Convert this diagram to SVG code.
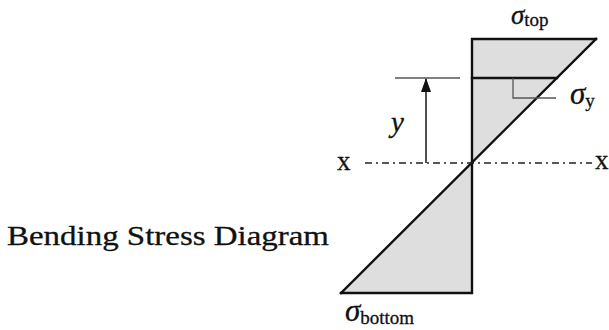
<svg xmlns="http://www.w3.org/2000/svg" width="609" height="330" viewBox="0 0 609 330">
<defs>
<style>
.area{fill:#dedede;stroke:none}
.thick{stroke:#111;stroke-width:2.4;fill:none;stroke-linecap:square}
.thin{stroke:#555;stroke-width:1.3;fill:none}
.axis{stroke:#222;stroke-width:1.6;stroke-dasharray:7 4 2 4;fill:none}
.t{fill:#111;stroke:#111;stroke-width:0.3}
.it{font-style:italic}
.sub{font-style:normal;font-size:19px}
</style>
<marker id="ah" viewBox="0 0 14 10" refX="13" refY="5" markerWidth="14" markerHeight="10" markerUnits="userSpaceOnUse" orient="auto">
<path d="M0,0 L14,5 L0,10 Z" fill="#111"/>
</marker>
</defs>
<rect width="609" height="330" fill="#fff"/>
<g id="stress-top">
<polygon class="area" points="472,39 596,39 472,163"/>
<polyline class="thick" points="472,163 472,39 596,39"/>
</g>
<g id="stress-bottom">
<polygon class="area" points="472,163 472,293 341,293"/>
<polyline class="thick" points="341,293 472,293 472,163"/>
</g>
<g id="connectors">
<line class="thick" x1="341" y1="293" x2="596" y2="39"/>
<line class="thick" x1="472" y1="78" x2="557" y2="78"/>
<line class="thin" x1="395" y1="78" x2="460" y2="78"/>
<polyline class="thin" points="513,78 513,98 556,98"/>
<line class="axis" x1="365" y1="163" x2="592" y2="163"/>
<line x1="426" y1="163" x2="426" y2="79" stroke="#222" stroke-width="1.6" marker-end="url(#ah)"/>
</g>
<g id="labels" font-family="Liberation Serif, serif">
<text class="t" x="337" y="170" font-size="27">x</text>
<text class="t" x="595" y="169" font-size="27">x</text>
<text class="t it" x="391" y="132" font-size="29">y</text>
<text class="t it" x="511" y="24" font-size="27">σ<tspan class="sub" dy="2">top</tspan></text>
<text class="t it" x="570" y="104" font-size="31">σ<tspan class="sub" dy="3">y</tspan></text>
<text class="t it" x="345" y="321" font-size="31">σ<tspan class="sub" dy="3">bottom</tspan></text>
<text class="t" x="7" y="245" font-size="27" textLength="322" lengthAdjust="spacingAndGlyphs">Bending Stress Diagram</text>
</g>
</svg>
